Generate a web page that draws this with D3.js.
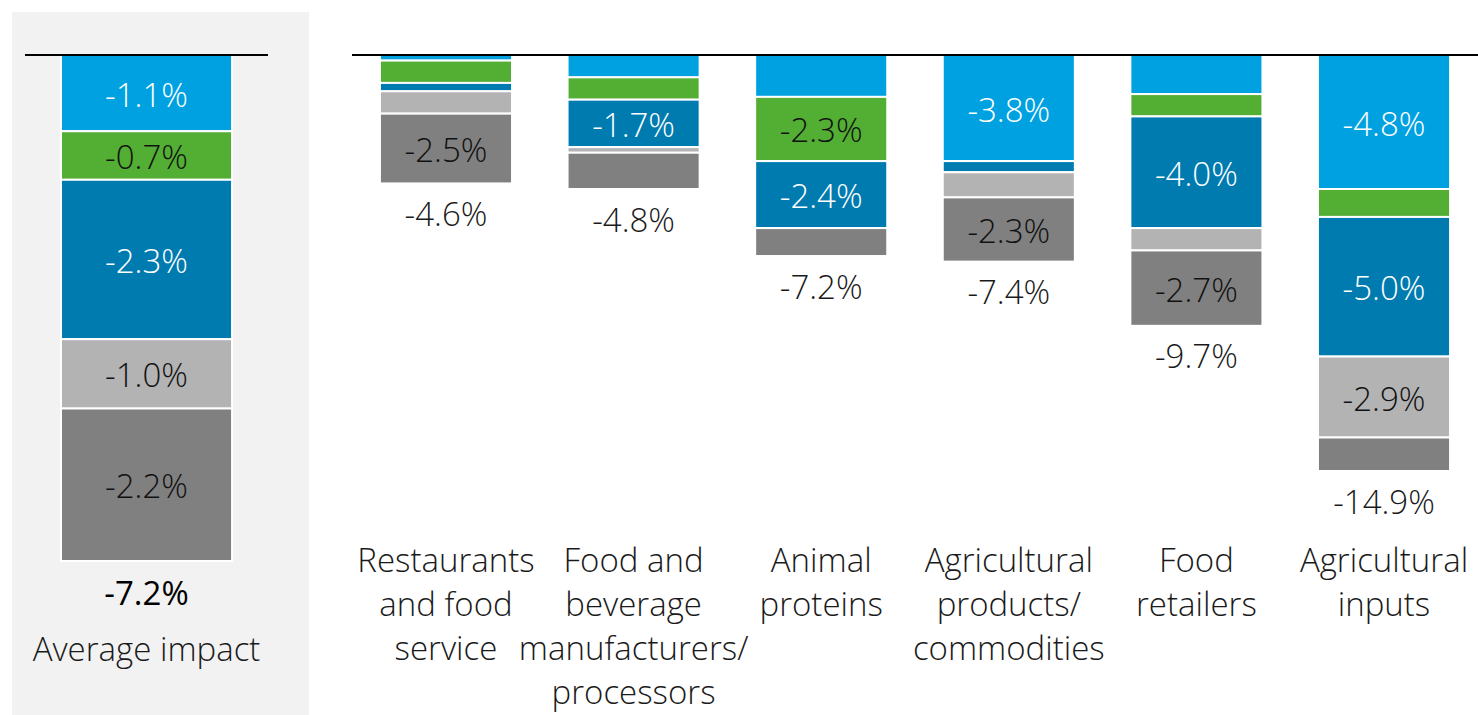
<!DOCTYPE html>
<html>
<head>
<meta charset="utf-8">
<script src="https://cdn.jsdelivr.net/npm/d3@7/dist/d3.min.js"></script>
<style>
  html, body { margin: 0; padding: 0; background: #ffffff; }
  svg { display: block; }
  text { font-family: "Open Sans", "Segoe UI", Lato, sans-serif; font-weight: 300; }
</style>
</head>
<body>
<svg id="chart" width="1478" height="715"></svg>
<script>
// Segment order, top to bottom of each stacked bar
const seriesNames = ["seg1", "seg2", "seg3", "seg4", "seg5"];
const seriesColors = ["#00a1e1", "#53ae34", "#007bb0", "#b3b3b3", "#808080"];
const seriesTextColors = ["#ffffff", "#111111", "#ffffff", "#111111", "#111111"];

// Average impact panel
const averageLabel = "Average impact";
const averageValues = [-1.1, -0.7, -2.3, -1.0, -2.2];
const averageTotal = -7.2;

// Sector panel
const categories = [
  "Restaurants\nand food\nservice",
  "Food and\nbeverage\nmanufacturers/\nprocessors",
  "Animal\nproteins",
  "Agricultural\nproducts/\ncommodities",
  "Food\nretailers",
  "Agricultural\ninputs"
];
const seg1 = [-0.2, -0.8, -1.5, -3.8, -1.4, -4.8];
const seg2 = [-0.8, -0.8, -2.3,  0.0, -0.8, -1.0];
const seg3 = [-0.3, -1.7, -2.4, -0.4, -4.0, -5.0];
const seg4 = [-0.8, -0.2,  0.0, -0.9, -0.8, -2.9];
const seg5 = [-2.5, -1.3, -1.0, -2.3, -2.7, -1.2];
const totals = [-4.6, -4.8, -7.2, -7.4, -9.7, -14.9];

// Segments smaller than this (in points) carry no value label in the sector panel
const labelThreshold = 1.65;

const fmt = v => (v < 0 ? "-" : "") + Math.abs(v).toFixed(1) + "%";
const FS = 33;

const svg = d3.select("#chart");

// ---------- Average panel ----------
svg.append("rect")
  .attr("x", 12).attr("y", 12).attr("width", 297).attr("height", 703)
  .attr("fill", "#f2f2f2");

const avgStack = averageValues.map((v, i) => {
  const start = d3.sum(averageValues.slice(0, i));
  return { i, v, y0: start, y1: start + v };
});
const avgY = d3.scaleLinear()
  .domain([0, d3.sum(averageValues)])
  .range([55, 561]);
const avgX = d3.scaleBand()
  .domain([averageLabel])
  .range([12, 309])
  .paddingInner(0.424)
  .paddingOuter(0.212)
  .align(0.389);
const avgBarX = avgX(averageLabel), avgBarW = avgX.bandwidth();

const gAvg = svg.append("g");
gAvg.selectAll("rect.seg")
  .data(avgStack)
  .join("rect")
  .attr("class", "seg")
  .attr("x", avgBarX)
  .attr("width", avgBarW)
  .attr("y", d => avgY(d.y0))
  .attr("height", d => avgY(d.y1) - avgY(d.y0))
  .attr("fill", d => seriesColors[d.i])
  .attr("stroke", "#ffffff")
  .attr("stroke-width", 2);

gAvg.selectAll("text.val")
  .data(avgStack)
  .join("text")
  .attr("class", "val")
  .attr("x", avgBarX + avgBarW / 2)
  .attr("y", d => (avgY(d.y0) + avgY(d.y1)) / 2 + 1)
  .attr("text-anchor", "middle")
  .attr("dominant-baseline", "central")
  .attr("font-size", FS)
  .attr("fill", d => seriesTextColors[d.i])
  .text(d => fmt(d.v));

gAvg.append("text")
  .attr("x", avgBarX + avgBarW / 2)
  .attr("y", avgY(d3.sum(averageValues)) + 31)
  .attr("text-anchor", "middle")
  .attr("dominant-baseline", "central")
  .attr("font-size", FS)
  .style("font-weight", 400)
  .attr("fill", "#000000")
  .text(fmt(averageTotal));

gAvg.append("text")
  .attr("x", avgBarX + avgBarW / 2)
  .attr("y", 648)
  .attr("text-anchor", "middle")
  .attr("dominant-baseline", "central")
  .attr("font-size", FS)
  .attr("fill", "#1a1a1a")
  .text(averageLabel);

gAvg.append("line")
  .attr("x1", 25).attr("x2", 268)
  .attr("y1", 55).attr("y2", 55)
  .attr("stroke", "#000000").attr("stroke-width", 2);

// ---------- Sector panel ----------
const seriesData = [seg1, seg2, seg3, seg4, seg5];
const rows = categories.map((c, j) => {
  const row = { category: c };
  seriesNames.forEach((k, i) => { row[k] = -seriesData[i][j]; });
  return row;
});
const stacked = d3.stack().keys(seriesNames)(rows);

const x = d3.scaleBand()
  .domain(categories)
  .range([352, 1478])
  .paddingInner(0.296)
  .paddingOuter(0.149);
const y = d3.scaleLinear()
  .domain([0, 14.9])
  .range([55, 471]);

const gMain = svg.append("g");
stacked.forEach((layer, i) => {
  const g = gMain.append("g");
  g.selectAll("rect")
    .data(layer)
    .join("rect")
    .attr("x", d => x(d.data.category))
    .attr("width", x.bandwidth())
    .attr("y", d => y(d[0]))
    .attr("height", d => y(d[1]) - y(d[0]))
    .attr("fill", seriesColors[i])
    .attr("stroke", "#ffffff")
    .attr("stroke-width", 2);

  g.selectAll("text")
    .data(layer.filter(d => d[1] - d[0] >= labelThreshold))
    .join("text")
    .attr("x", d => x(d.data.category) + x.bandwidth() / 2)
    .attr("y", d => (y(d[0]) + y(d[1])) / 2 + 1)
    .attr("text-anchor", "middle")
    .attr("dominant-baseline", "central")
    .attr("font-size", FS)
    .attr("fill", seriesTextColors[i])
    .text(d => fmt(-(d[1] - d[0])));
});

// totals under each bar
gMain.selectAll("text.total")
  .data(categories)
  .join("text")
  .attr("class", "total")
  .attr("x", c => x(c) + x.bandwidth() / 2)
  .attr("y", (c, j) => y(-totals[j]) + 30)
  .attr("text-anchor", "middle")
  .attr("dominant-baseline", "central")
  .attr("font-size", FS)
  .attr("fill", "#1a1a1a")
  .text((c, j) => fmt(totals[j]));

// category labels
const catG = gMain.selectAll("text.cat")
  .data(categories)
  .join("text")
  .attr("class", "cat")
  .attr("x", c => x(c) + x.bandwidth() / 2)
  .attr("y", 559)
  .attr("text-anchor", "middle")
  .attr("font-size", FS)
  .attr("fill", "#1a1a1a");
catG.selectAll("tspan")
  .data(c => c.split("\n"))
  .join("tspan")
  .attr("x", function () { return this.parentNode.getAttribute("x"); })
  .attr("dy", (d, k) => k === 0 ? 0 : 44)
  .attr("dominant-baseline", "central")
  .text(d => d);

gMain.append("line")
  .attr("x1", 352).attr("x2", 1478)
  .attr("y1", 55).attr("y2", 55)
  .attr("stroke", "#000000").attr("stroke-width", 2);
</script>
</body>
</html>
